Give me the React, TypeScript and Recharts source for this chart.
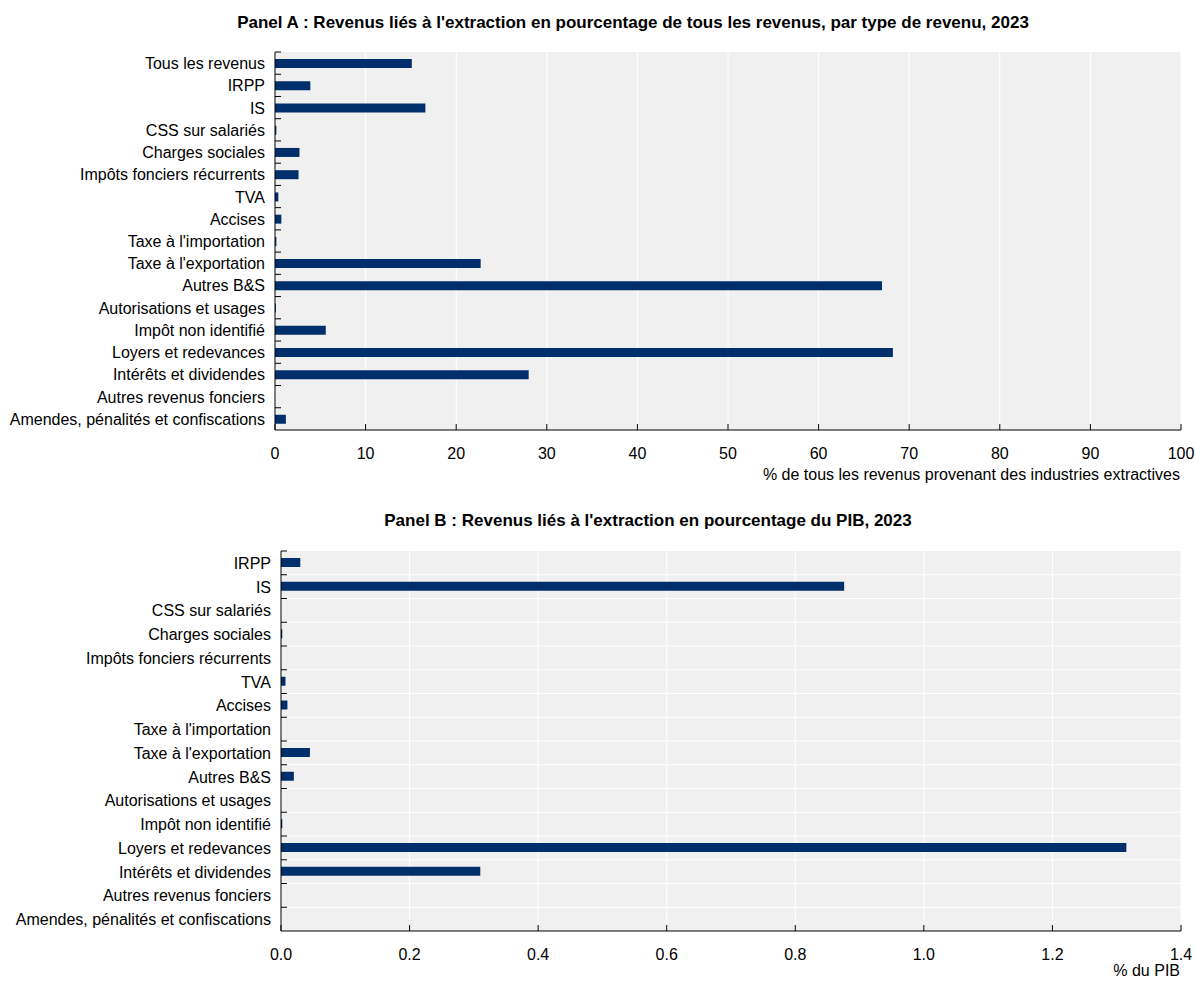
import React from 'react'
import { BarChart, Bar, XAxis, YAxis, CartesianGrid } from 'recharts'

// Panel A : % of all revenues coming from extractive industries
const categoriesA = [
  'Tous les revenus',
  'IRPP',
  'IS',
  'CSS sur salariés',
  'Charges sociales',
  'Impôts fonciers récurrents',
  'TVA',
  'Accises',
  "Taxe à l'importation",
  "Taxe à l'exportation",
  'Autres B&S',
  'Autorisations et usages',
  'Impôt non identifié',
  'Loyers et redevances',
  'Intérêts et dividendes',
  'Autres revenus fonciers',
  'Amendes, pénalités et confiscations',
]
const valuesA = [15.1, 3.9, 16.6, 0.15, 2.7, 2.6, 0.37, 0.7, 0.15, 22.7, 67.0, 0.1, 5.6, 68.2, 28.0, 0, 1.2]
const ticksA = [0, 10, 20, 30, 40, 50, 60, 70, 80, 90, 100]

// Panel B : % of GDP
const categoriesB = categoriesA.slice(1)
const valuesB = [0.03, 0.876, 0, 0.002, 0, 0.007, 0.01, 0, 0.045, 0.02, 0, 0.002, 1.315, 0.31, 0, 0]
const ticksB = [0, 0.2, 0.4, 0.6, 0.8, 1.0, 1.2, 1.4]

const dataA = categoriesA.map((name, i) => ({ name, value: valuesA[i] }))
const dataB = categoriesB.map((name, i) => ({ name, value: valuesB[i] }))

const FONT = '"Liberation Sans", Arial, sans-serif'
const FS = 16
const BAR = '#002f6c'
const BG = '#f0f0f0'

const makeXTick = (fmt: (v: number) => string) => (props: any) => {
  const { x, y, payload } = props
  return (
    <g>
      <line x1={x} y1={y} x2={x} y2={y - 6} stroke="#000" strokeWidth={1} />
      <text x={x} y={y + 29} textAnchor="middle" fontSize={FS} fontFamily={FONT} fill="#000">
        {fmt(payload.value)}
      </text>
    </g>
  )
}

const makeYTick = (band: number) => (props: any) => {
  const { x, y, payload } = props
  return (
    <g>
      <line x1={x} y1={y - band / 2} x2={x + 6} y2={y - band / 2} stroke="#000" strokeWidth={1} />
      <text x={x - 10} y={y + 6} textAnchor="end" fontSize={FS} fontFamily={FONT} fill="#000">
        {payload.value}
      </text>
    </g>
  )
}

const titleStyle: React.CSSProperties = {
  position: 'absolute',
  fontFamily: FONT,
  fontWeight: 'bold',
  fontSize: 17,
  whiteSpace: 'nowrap',
  transform: 'translateX(-50%)',
}

const axisTitleStyle: React.CSSProperties = {
  position: 'absolute',
  fontFamily: FONT,
  fontSize: FS,
  whiteSpace: 'nowrap',
  textAlign: 'right',
}

export default function App() {
  const bandA = 378 / categoriesA.length
  const bandB = 380 / categoriesB.length

  return (
    <div style={{ position: 'absolute', left: 0, top: 0, width: 1195, height: 981, background: '#fff' }}>
      <div style={{ position: 'absolute', left: 0, top: 0 }}>
        <BarChart
          width={1195}
          height={490}
          data={dataA}
          layout="vertical"
          margin={{ top: 52, right: 14, bottom: 0, left: 10 }}
          barCategoryGap={0}
        >
          <CartesianGrid fill={BG} stroke="#fff" strokeWidth={1} horizontal={false} />
          <XAxis
            type="number"
            domain={[0, 100]}
            ticks={ticksA}
            height={60}
            tickSize={0}
            tickMargin={0}
            tickLine={false}
            axisLine={{ stroke: '#000' }}
            tick={makeXTick((v) => String(v))}
            interval={0}
          />
          <YAxis
            type="category"
            dataKey="name"
            width={265}
            tickSize={0}
            tickMargin={0}
            tickLine={false}
            axisLine={{ stroke: '#000' }}
            tick={makeYTick(bandA)}
            interval={0}
          />
          <Bar dataKey="value" fill={BAR} barSize={9} isAnimationActive={false} />
        </BarChart>
      </div>
      <div style={{ position: 'absolute', left: 0, top: 500 }}>
        <BarChart
          width={1195}
          height={481}
          data={dataB}
          layout="vertical"
          margin={{ top: 51, right: 14, bottom: 0, left: 10 }}
          barCategoryGap={0}
        >
          <CartesianGrid
            fill={BG}
            stroke="#fff"
            strokeWidth={1}
            horizontalCoordinatesGenerator={({ offset }: any) =>
              categoriesB.slice(1).map((_, i) => offset.top + ((i + 1) * offset.height) / categoriesB.length)
            }
          />
          <XAxis
            type="number"
            domain={[0, 1.4]}
            ticks={ticksB}
            height={50}
            tickSize={0}
            tickMargin={0}
            tickLine={false}
            axisLine={{ stroke: '#000' }}
            tick={makeXTick((v) => v.toFixed(1))}
            interval={0}
          />
          <YAxis
            type="category"
            dataKey="name"
            width={271}
            tickSize={0}
            tickMargin={0}
            tickLine={false}
            axisLine={{ stroke: '#000' }}
            tick={makeYTick(bandB)}
            interval={0}
          />
          <Bar dataKey="value" fill={BAR} barSize={9} isAnimationActive={false} />
        </BarChart>
      </div>

      <div style={{ ...titleStyle, left: 633, top: 13 }}>
        Panel A : Revenus liés à l'extraction en pourcentage de tous les revenus, par type de revenu, 2023
      </div>
      <div style={{ ...axisTitleStyle, right: 15, top: 466 }}>
        % de tous les revenus provenant des industries extractives
      </div>
      <div style={{ ...titleStyle, left: 648, top: 511 }}>
        Panel B : Revenus liés à l'extraction en pourcentage du PIB, 2023
      </div>
      <div style={{ ...axisTitleStyle, right: 15, top: 962 }}>% du PIB</div>
    </div>
  )
}
